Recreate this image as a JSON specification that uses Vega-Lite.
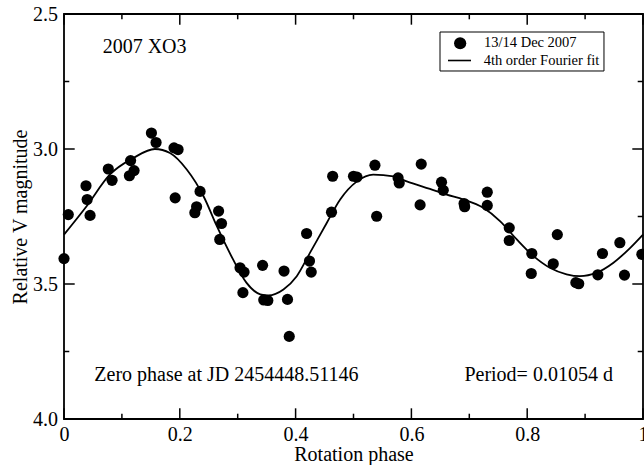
{
  "$schema": "https://vega.github.io/schema/vega-lite/v6.json",
  "width": 579,
  "height": 405,
  "autosize": {"type": "none"},
  "padding": {"left": 64, "top": 14, "right": 1, "bottom": 46},
  "datasets": {
    "points": [
      {"phase": 0.000, "mag": 3.406, "dataset": "13/14 Dec 2007"},
      {"phase": 0.0074, "mag": 3.243, "dataset": "13/14 Dec 2007"},
      {"phase": 0.038, "mag": 3.136, "dataset": "13/14 Dec 2007"},
      {"phase": 0.040, "mag": 3.187, "dataset": "13/14 Dec 2007"},
      {"phase": 0.045, "mag": 3.246, "dataset": "13/14 Dec 2007"},
      {"phase": 0.0765, "mag": 3.074, "dataset": "13/14 Dec 2007"},
      {"phase": 0.083, "mag": 3.116, "dataset": "13/14 Dec 2007"},
      {"phase": 0.113, "mag": 3.099, "dataset": "13/14 Dec 2007"},
      {"phase": 0.115, "mag": 3.043, "dataset": "13/14 Dec 2007"},
      {"phase": 0.121, "mag": 3.080, "dataset": "13/14 Dec 2007"},
      {"phase": 0.151, "mag": 2.941, "dataset": "13/14 Dec 2007"},
      {"phase": 0.159, "mag": 2.976, "dataset": "13/14 Dec 2007"},
      {"phase": 0.190, "mag": 2.996, "dataset": "13/14 Dec 2007"},
      {"phase": 0.197, "mag": 3.002, "dataset": "13/14 Dec 2007"},
      {"phase": 0.192, "mag": 3.181, "dataset": "13/14 Dec 2007"},
      {"phase": 0.226, "mag": 3.236, "dataset": "13/14 Dec 2007"},
      {"phase": 0.229, "mag": 3.214, "dataset": "13/14 Dec 2007"},
      {"phase": 0.235, "mag": 3.157, "dataset": "13/14 Dec 2007"},
      {"phase": 0.267, "mag": 3.230, "dataset": "13/14 Dec 2007"},
      {"phase": 0.272, "mag": 3.276, "dataset": "13/14 Dec 2007"},
      {"phase": 0.269, "mag": 3.335, "dataset": "13/14 Dec 2007"},
      {"phase": 0.304, "mag": 3.440, "dataset": "13/14 Dec 2007"},
      {"phase": 0.311, "mag": 3.456, "dataset": "13/14 Dec 2007"},
      {"phase": 0.309, "mag": 3.532, "dataset": "13/14 Dec 2007"},
      {"phase": 0.343, "mag": 3.431, "dataset": "13/14 Dec 2007"},
      {"phase": 0.345, "mag": 3.559, "dataset": "13/14 Dec 2007"},
      {"phase": 0.352, "mag": 3.561, "dataset": "13/14 Dec 2007"},
      {"phase": 0.380, "mag": 3.452, "dataset": "13/14 Dec 2007"},
      {"phase": 0.386, "mag": 3.557, "dataset": "13/14 Dec 2007"},
      {"phase": 0.389, "mag": 3.694, "dataset": "13/14 Dec 2007"},
      {"phase": 0.419, "mag": 3.313, "dataset": "13/14 Dec 2007"},
      {"phase": 0.424, "mag": 3.415, "dataset": "13/14 Dec 2007"},
      {"phase": 0.427, "mag": 3.456, "dataset": "13/14 Dec 2007"},
      {"phase": 0.462, "mag": 3.234, "dataset": "13/14 Dec 2007"},
      {"phase": 0.464, "mag": 3.101, "dataset": "13/14 Dec 2007"},
      {"phase": 0.500, "mag": 3.101, "dataset": "13/14 Dec 2007"},
      {"phase": 0.506, "mag": 3.104, "dataset": "13/14 Dec 2007"},
      {"phase": 0.537, "mag": 3.060, "dataset": "13/14 Dec 2007"},
      {"phase": 0.540, "mag": 3.249, "dataset": "13/14 Dec 2007"},
      {"phase": 0.577, "mag": 3.107, "dataset": "13/14 Dec 2007"},
      {"phase": 0.579, "mag": 3.126, "dataset": "13/14 Dec 2007"},
      {"phase": 0.617, "mag": 3.056, "dataset": "13/14 Dec 2007"},
      {"phase": 0.615, "mag": 3.207, "dataset": "13/14 Dec 2007"},
      {"phase": 0.652, "mag": 3.123, "dataset": "13/14 Dec 2007"},
      {"phase": 0.655, "mag": 3.153, "dataset": "13/14 Dec 2007"},
      {"phase": 0.691, "mag": 3.202, "dataset": "13/14 Dec 2007"},
      {"phase": 0.692, "mag": 3.214, "dataset": "13/14 Dec 2007"},
      {"phase": 0.731, "mag": 3.160, "dataset": "13/14 Dec 2007"},
      {"phase": 0.731, "mag": 3.209, "dataset": "13/14 Dec 2007"},
      {"phase": 0.769, "mag": 3.292, "dataset": "13/14 Dec 2007"},
      {"phase": 0.769, "mag": 3.339, "dataset": "13/14 Dec 2007"},
      {"phase": 0.808, "mag": 3.387, "dataset": "13/14 Dec 2007"},
      {"phase": 0.807, "mag": 3.461, "dataset": "13/14 Dec 2007"},
      {"phase": 0.852, "mag": 3.317, "dataset": "13/14 Dec 2007"},
      {"phase": 0.845, "mag": 3.425, "dataset": "13/14 Dec 2007"},
      {"phase": 0.884, "mag": 3.495, "dataset": "13/14 Dec 2007"},
      {"phase": 0.889, "mag": 3.499, "dataset": "13/14 Dec 2007"},
      {"phase": 0.922, "mag": 3.466, "dataset": "13/14 Dec 2007"},
      {"phase": 0.930, "mag": 3.387, "dataset": "13/14 Dec 2007"},
      {"phase": 0.960, "mag": 3.347, "dataset": "13/14 Dec 2007"},
      {"phase": 0.968, "mag": 3.467, "dataset": "13/14 Dec 2007"},
      {"phase": 0.998, "mag": 3.390, "dataset": "13/14 Dec 2007"}
    ],
    "fit": [
      {"phase": 0.000, "mag": 3.317, "model": "4th order Fourier fit"},
      {"phase": 0.039, "mag": 3.212, "model": "4th order Fourier fit"},
      {"phase": 0.079, "mag": 3.095, "model": "4th order Fourier fit"},
      {"phase": 0.120, "mag": 3.033, "model": "4th order Fourier fit"},
      {"phase": 0.157, "mag": 3.000, "model": "4th order Fourier fit"},
      {"phase": 0.183, "mag": 3.015, "model": "4th order Fourier fit"},
      {"phase": 0.212, "mag": 3.076, "model": "4th order Fourier fit"},
      {"phase": 0.241, "mag": 3.175, "model": "4th order Fourier fit"},
      {"phase": 0.264, "mag": 3.286, "model": "4th order Fourier fit"},
      {"phase": 0.292, "mag": 3.409, "model": "4th order Fourier fit"},
      {"phase": 0.315, "mag": 3.495, "model": "4th order Fourier fit"},
      {"phase": 0.339, "mag": 3.538, "model": "4th order Fourier fit"},
      {"phase": 0.353, "mag": 3.542, "model": "4th order Fourier fit"},
      {"phase": 0.379, "mag": 3.520, "model": "4th order Fourier fit"},
      {"phase": 0.402, "mag": 3.471, "model": "4th order Fourier fit"},
      {"phase": 0.425, "mag": 3.384, "model": "4th order Fourier fit"},
      {"phase": 0.454, "mag": 3.273, "model": "4th order Fourier fit"},
      {"phase": 0.477, "mag": 3.187, "model": "4th order Fourier fit"},
      {"phase": 0.506, "mag": 3.120, "model": "4th order Fourier fit"},
      {"phase": 0.534, "mag": 3.095, "model": "4th order Fourier fit"},
      {"phase": 0.569, "mag": 3.101, "model": "4th order Fourier fit"},
      {"phase": 0.592, "mag": 3.120, "model": "4th order Fourier fit"},
      {"phase": 0.632, "mag": 3.148, "model": "4th order Fourier fit"},
      {"phase": 0.661, "mag": 3.169, "model": "4th order Fourier fit"},
      {"phase": 0.690, "mag": 3.187, "model": "4th order Fourier fit"},
      {"phase": 0.724, "mag": 3.218, "model": "4th order Fourier fit"},
      {"phase": 0.753, "mag": 3.267, "model": "4th order Fourier fit"},
      {"phase": 0.782, "mag": 3.335, "model": "4th order Fourier fit"},
      {"phase": 0.811, "mag": 3.397, "model": "4th order Fourier fit"},
      {"phase": 0.839, "mag": 3.440, "model": "4th order Fourier fit"},
      {"phase": 0.868, "mag": 3.464, "model": "4th order Fourier fit"},
      {"phase": 0.891, "mag": 3.471, "model": "4th order Fourier fit"},
      {"phase": 0.920, "mag": 3.458, "model": "4th order Fourier fit"},
      {"phase": 0.949, "mag": 3.421, "model": "4th order Fourier fit"},
      {"phase": 0.978, "mag": 3.366, "model": "4th order Fourier fit"},
      {"phase": 1.000, "mag": 3.317, "model": "4th order Fourier fit"}
    ],
    "xmajor": [{"v": 0}, {"v": 0.2}, {"v": 0.4}, {"v": 0.6}, {"v": 0.8}, {"v": 1}],
    "xminor": [{"v": 0.1}, {"v": 0.3}, {"v": 0.5}, {"v": 0.7}, {"v": 0.9}],
    "ymajor": [{"v": 2.5}, {"v": 3}, {"v": 3.5}, {"v": 4}],
    "yminor": [{"v": 2.75}, {"v": 3.25}, {"v": 3.75}]
  },
  "config": {
    "view": {"stroke": "black", "strokeWidth": 1.8},
    "axis": {
      "grid": false, "domain": false, "ticks": false,
      "labelFont": "Liberation Serif", "labelFontSize": 20, "labelColor": "black",
      "labelOverlap": false, "labelFlush": false, "labelBound": false,
      "titleFont": "Liberation Serif", "titleFontSize": 20, "titleFontWeight": "normal", "titleColor": "black"
    },
    "legend": {"labelFont": "Liberation Serif", "labelFontSize": 14.5, "labelColor": "black", "labelLimit": 300, "title": null},
    "text": {"font": "Liberation Serif", "fontSize": 20, "color": "black"}
  },
  "layer": [
    {
      "data": {"values": [{}]},
      "mark": {"type": "rect", "fill": "white", "stroke": "black", "strokeWidth": 1},
      "encoding": {
        "x": {"datum": 0.6494, "type": "quantitative", "scale": {"domain": [0, 1], "nice": false, "zero": false, "padding": 0}, "axis": null},
        "x2": {"datum": 0.9326},
        "y": {"datum": 2.5667, "type": "quantitative", "scale": {"domain": [2.5, 4], "nice": false, "zero": false, "reverse": true, "padding": 0}, "axis": null},
        "y2": {"datum": 2.7111}
      }
    },
    {
      "data": {"name": "fit"},
      "mark": {"type": "line", "strokeWidth": 1.8, "interpolate": "monotone"},
      "encoding": {
        "x": {"field": "phase", "type": "quantitative", "scale": {"domain": [0, 1], "nice": false, "zero": false},
          "axis": {"orient": "bottom", "values": [0, 0.2, 0.4, 0.6, 0.8, 1],
            "labelPadding": 5, "labelExpr": "datum.value + ''",
            "title": "Rotation phase", "titlePadding": 0}},
        "y": {"field": "mag", "type": "quantitative", "scale": {"domain": [2.5, 4], "nice": false, "zero": false, "reverse": true},
          "axis": {"orient": "left", "values": [2.5, 3, 3.5, 4],
            "labelPadding": 6.5, "format": ".1f",
            "title": "Relative V magnitude", "titlePadding": 2}},
        "color": {"field": "model", "type": "nominal", "scale": {"range": ["black"]},
          "legend": {"orient": "none", "legendX": 383, "legendY": 34, "padding": 0,
            "symbolType": "stroke", "symbolSize": 529, "symbolStrokeWidth": 1.6, "labelOffset": 11.7}}
      }
    },
    {
      "data": {"name": "points"},
      "mark": {"type": "point", "filled": true, "color": "black", "size": 125, "opacity": 1},
      "encoding": {
        "x": {"field": "phase", "type": "quantitative", "scale": {"domain": [0, 1], "nice": false, "zero": false}, "axis": null},
        "y": {"field": "mag", "type": "quantitative", "scale": {"domain": [2.5, 4], "nice": false, "zero": false, "reverse": true}, "axis": null},
        "shape": {"field": "dataset", "type": "nominal", "scale": {"range": ["circle"]},
          "legend": {"orient": "none", "legendX": 388.9, "legendY": 22, "padding": 0,
            "symbolSize": 150, "symbolOpacity": 1, "labelOffset": 16.6}}
      }
    },
    {
      "data": {"values": [{}]},
      "mark": {"type": "text", "text": "2007 XO3", "align": "left", "baseline": "alphabetic"},
      "encoding": {
        "x": {"datum": 0.0668, "type": "quantitative", "scale": {"domain": [0, 1], "nice": false, "zero": false}, "axis": null},
        "y": {"datum": 2.643, "type": "quantitative", "scale": {"domain": [2.5, 4], "nice": false, "zero": false, "reverse": true}, "axis": null}
      }
    },
    {
      "data": {"values": [{}]},
      "mark": {"type": "text", "text": "Zero phase at JD 2454448.51146", "align": "left", "baseline": "alphabetic"},
      "encoding": {
        "x": {"datum": 0.0523, "type": "quantitative", "scale": {"domain": [0, 1], "nice": false, "zero": false}, "axis": null},
        "y": {"datum": 3.859, "type": "quantitative", "scale": {"domain": [2.5, 4], "nice": false, "zero": false, "reverse": true}, "axis": null}
      }
    },
    {
      "data": {"values": [{}]},
      "mark": {"type": "text", "text": "Period= 0.01054 d", "align": "right", "baseline": "alphabetic"},
      "encoding": {
        "x": {"datum": 0.948, "type": "quantitative", "scale": {"domain": [0, 1], "nice": false, "zero": false}, "axis": null},
        "y": {"datum": 3.859, "type": "quantitative", "scale": {"domain": [2.5, 4], "nice": false, "zero": false, "reverse": true}, "axis": null}
      }
    },
    {
      "data": {"name": "xmajor"},
      "mark": {"type": "rule", "color": "black", "strokeWidth": 1.5},
      "encoding": {
        "x": {"field": "v", "type": "quantitative", "scale": {"domain": [0, 1], "nice": false, "zero": false}, "axis": null},
        "y": {"datum": 4, "type": "quantitative", "scale": {"domain": [2.5, 4], "nice": false, "zero": false, "reverse": true}, "axis": null},
        "y2": {"datum": 3.9604}
      }
    },
    {
      "data": {"name": "xminor"},
      "mark": {"type": "rule", "color": "black", "strokeWidth": 1.5},
      "encoding": {
        "x": {"field": "v", "type": "quantitative", "scale": {"domain": [0, 1], "nice": false, "zero": false}, "axis": null},
        "y": {"datum": 4, "type": "quantitative", "scale": {"domain": [2.5, 4], "nice": false, "zero": false, "reverse": true}, "axis": null},
        "y2": {"datum": 3.9804}
      }
    },
    {
      "data": {"name": "xmajor"},
      "mark": {"type": "rule", "color": "black", "strokeWidth": 1.5},
      "encoding": {
        "x": {"field": "v", "type": "quantitative", "scale": {"domain": [0, 1], "nice": false, "zero": false}, "axis": null},
        "y": {"datum": 2.5, "type": "quantitative", "scale": {"domain": [2.5, 4], "nice": false, "zero": false, "reverse": true}, "axis": null},
        "y2": {"datum": 2.5396}
      }
    },
    {
      "data": {"name": "xminor"},
      "mark": {"type": "rule", "color": "black", "strokeWidth": 1.5},
      "encoding": {
        "x": {"field": "v", "type": "quantitative", "scale": {"domain": [0, 1], "nice": false, "zero": false}, "axis": null},
        "y": {"datum": 2.5, "type": "quantitative", "scale": {"domain": [2.5, 4], "nice": false, "zero": false, "reverse": true}, "axis": null},
        "y2": {"datum": 2.5196}
      }
    },
    {
      "data": {"name": "ymajor"},
      "mark": {"type": "rule", "color": "black", "strokeWidth": 1.5},
      "encoding": {
        "y": {"field": "v", "type": "quantitative", "scale": {"domain": [2.5, 4], "nice": false, "zero": false, "reverse": true}, "axis": null},
        "x": {"datum": 0, "type": "quantitative", "scale": {"domain": [0, 1], "nice": false, "zero": false}, "axis": null},
        "x2": {"datum": 0.01848}
      }
    },
    {
      "data": {"name": "yminor"},
      "mark": {"type": "rule", "color": "black", "strokeWidth": 1.5},
      "encoding": {
        "y": {"field": "v", "type": "quantitative", "scale": {"domain": [2.5, 4], "nice": false, "zero": false, "reverse": true}, "axis": null},
        "x": {"datum": 0, "type": "quantitative", "scale": {"domain": [0, 1], "nice": false, "zero": false}, "axis": null},
        "x2": {"datum": 0.00915}
      }
    },
    {
      "data": {"name": "ymajor"},
      "mark": {"type": "rule", "color": "black", "strokeWidth": 1.5},
      "encoding": {
        "y": {"field": "v", "type": "quantitative", "scale": {"domain": [2.5, 4], "nice": false, "zero": false, "reverse": true}, "axis": null},
        "x": {"datum": 1, "type": "quantitative", "scale": {"domain": [0, 1], "nice": false, "zero": false}, "axis": null},
        "x2": {"datum": 0.98152}
      }
    },
    {
      "data": {"name": "yminor"},
      "mark": {"type": "rule", "color": "black", "strokeWidth": 1.5},
      "encoding": {
        "y": {"field": "v", "type": "quantitative", "scale": {"domain": [2.5, 4], "nice": false, "zero": false, "reverse": true}, "axis": null},
        "x": {"datum": 1, "type": "quantitative", "scale": {"domain": [0, 1], "nice": false, "zero": false}, "axis": null},
        "x2": {"datum": 0.99085}
      }
    }
  ],
  "resolve": {"axis": {"x": "independent", "y": "independent"}}
}
